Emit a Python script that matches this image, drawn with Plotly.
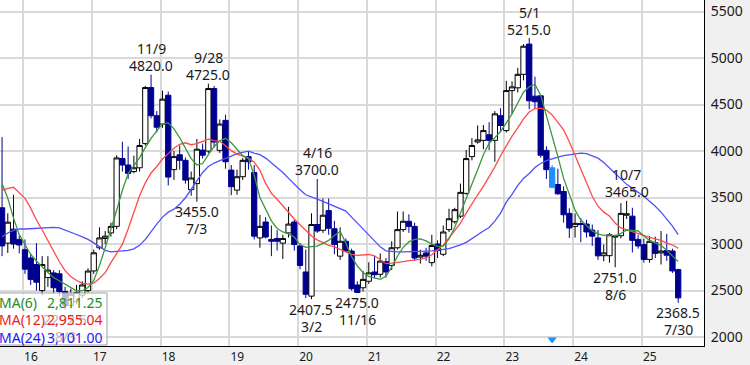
import plotly.graph_objects as go

# Monthly candles, first candle = Sep 2015 (index -4), Jan 2016 = index 0
first_index = -4
opens = [3390, 3010, 3160, 3050, 2940, 2850, 2780, 2500, 2640, 2690, 2680, 2490, 2340, 2380, 2450, 2500,
         2711, 2960, 3060, 3120, 3190, 3920, 3850, 3780, 3820, 4080, 4683, 4380, 4290, 4600,
         3800, 3960, 3900, 3585, 3650, 4010, 4000, 4672, 4007, 4330, 3795, 3580, 3724, 3940, 3770,
         3066, 3237, 3050, 3060, 3010, 3120, 3237, 2980, 2700, 2440, 3210, 3148, 3360, 3165, 2870,
         3030, 2925, 2560, 2530, 2600, 2700, 2675, 2810, 2770, 2960, 3155, 3245, 3190, 2860, 2905,
         2800, 3000, 2890, 3155, 3240, 3300, 3545, 3940, 4097, 4115, 4175, 4115, 4380, 4220, 4650,
         4680, 4825, 5150, 4590, 4594, 4007, 3820, 3640, 3565, 3330, 3190, 3220, 3215, 3150, 3066,
         2875, 2875, 3075, 3090, 3310, 3300, 3050, 2994, 2835, 3015, 2905, 2930, 2925, 2725]
highs = [4150, 3330, 3530, 3100, 3050, 2900, 3010, 2870, 2870, 2720, 2720, 2540, 2520, 2560, 2600, 2740,
         2940, 3180, 3140, 3230, 3955, 4100, 4050, 3950, 4130, 4700, 4820, 4430, 4650, 4640,
         4000, 4060, 3930, 3780, 4130, 4080, 4725, 4700, 4340, 4390, 3850, 3800, 3925, 3990, 3850,
         3314, 3290, 3200, 3150, 3100, 3400, 3260, 3010, 2940, 3330, 3700, 3490, 3490, 3250, 3180,
         3060, 2950, 2600, 2710, 2805, 2870, 2900, 2850, 3030, 3350, 3350, 3320, 3230, 2940, 2960,
         3100, 3040, 3200, 3380, 3390, 3650, 4010, 4140, 4275, 4280, 4310, 4430, 4460, 4755, 4750,
         4895, 5150, 5215, 4800, 4600, 4050, 3850, 3810, 3620, 3385, 3330, 3280, 3260, 3210, 3150,
         2995, 3120, 3100, 3440, 3465, 3390, 3100, 3060, 3085, 3080, 3140, 3110, 2950, 2735]
lows = [2870, 2905, 2950, 2900, 2680, 2560, 2500, 2450, 2540, 2470, 2440, 2292.5, 2310, 2350, 2420, 2480,
        2680, 2940, 3000, 3080, 3160, 3780, 3700, 3760, 3780, 4060, 4350, 4200, 4250, 3630,
        3690, 3800, 3650, 3520, 3455, 3920, 3980, 4040, 3980, 3810, 3525, 3530, 3690, 3800, 3050,
        2960, 3060, 2870, 2930, 2840, 3070, 2930, 2730, 2420, 2407.5, 3120, 3120, 3100, 2890, 2830,
        2910, 2500, 2475, 2490, 2570, 2630, 2640, 2640, 2720, 2940, 3130, 3120, 2820, 2790, 2820,
        2760, 2850, 2870, 3130, 3220, 3280, 3530, 3900, 4080, 4020, 4010, 3885, 4200, 4200, 4400,
        4630, 4760, 4450, 4450, 3930, 3700, 3600, 3530, 3230, 3066, 3070, 3020, 3070, 2980, 2830,
        2815, 2800, 2751, 3060, 3270, 2910, 2950, 2800, 2800, 2850, 2780, 2820, 2690, 2368.5]
closes = [2980, 3235, 3000, 2990, 2730, 2620, 2590, 2780, 2720, 2530, 2490, 2340, 2460, 2480, 2560, 2710,
          2906, 3066, 3085, 3190, 3926, 3850, 3760, 3820, 4060, 4683, 4380, 4256, 4558, 3720,
          3940, 3900, 3688, 3710, 4020, 3955, 4672, 4097, 4290, 3885, 3617, 3724, 3900, 3885, 3085,
          3190, 3076, 3030, 3030, 3060, 3215, 2995, 2770, 2460, 3210, 3140, 3310, 3170, 2995, 3030,
          2925, 2520, 2480, 2620, 2690, 2670, 2817, 2700, 2960, 3155, 3245, 3190, 2850, 2880, 2870,
          2985, 2930, 3130, 3272, 3370, 3556, 3919, 4060, 4120, 4220, 4115, 4400, 4275, 4650, 4690,
          4825, 5127, 4540, 4530, 3955, 3800, 3610, 3540, 3315, 3173, 3222.5, 3210, 3130, 3085, 2873,
          2905, 3100, 3083, 3330, 3325, 3040, 2980, 2835, 3030, 2900, 2925, 2880, 2711, 2421.5]

ma6 = [3652, 3492, 3279, 3101, 2995, 2888, 2818, 2754, 2693, 2640, 2604, 2562, 2526, 2498, 2498, 2533,
       2608, 2768, 2959, 3151, 3364, 3578, 3759, 3844, 3929, 4036, 4137, 4217, 4292, 4303,
       4239, 4143, 4025, 3919, 3850, 3866, 3962, 4047, 4111, 4137, 4089, 4015, 3951, 3919, 3740,
       3500, 3372, 3249, 3168, 3130, 3109, 3076, 2995, 2965, 2972, 2978, 3007, 3039, 3093, 3135,
       3010, 2864, 2764, 2695, 2652, 2636, 2621, 2653, 2751, 2869, 2965, 3023, 3050, 3055, 3034,
       3000, 2975, 2978, 3055, 3180, 3330, 3485, 3640, 3800, 3960, 4084, 4143, 4212, 4303, 4398,
       4516, 4633, 4692, 4718, 4601, 4388, 4153, 3940, 3706, 3524, 3364, 3258, 3194, 3141, 3109,
       3093, 3098, 3087, 3114, 3151, 3146, 3141, 3087, 3039, 3013, 2986, 2933, 2874, 2811.25]
ma12 = [3578, 3599, 3610, 3556, 3492, 3386, 3258, 3151, 3034, 2927, 2810, 2714, 2650, 2608, 2581, 2570,
        2581, 2629, 2693, 2800, 2901, 2997, 3162, 3343, 3519, 3658, 3764, 3834, 3914, 3972,
        4031, 4073, 4089, 4068, 4079, 4105, 4127, 4111, 4105, 4057, 4004, 3967, 3945, 3924, 3880,
        3795, 3652, 3546, 3482, 3407, 3333, 3269, 3208, 3146, 3087, 3045, 3013, 2986, 2970, 2941,
        2911, 2890, 2879, 2885, 2888, 2874, 2831, 2789, 2794, 2800, 2810, 2821, 2826, 2835, 2853,
        2885, 2938, 2991, 3066, 3151, 3226, 3333, 3439, 3530, 3620, 3720, 3830, 3950, 4060, 4160,
        4250, 4345, 4420, 4457, 4462, 4441, 4388, 4313, 4228, 4100, 3951, 3791, 3642, 3514, 3407,
        3343, 3301, 3226, 3173, 3151, 3130, 3109, 3093, 3071, 3055, 3039, 3010, 2990, 2955.04]
ma24 = [3077, 3119, 3146, 3162, 3162, 3167, 3173, 3173, 3178, 3180, 3173, 3151, 3130, 3103, 3077, 3050,
        3013, 2970, 2933, 2917, 2922, 2924, 2933, 2949, 2986, 3050, 3135, 3215, 3290, 3343,
        3375, 3428, 3498, 3588, 3684, 3770, 3834, 3871, 3897, 3919, 3945, 3972, 3988, 3999, 3977,
        3961, 3924, 3876, 3828, 3770, 3706, 3642, 3583, 3530, 3503, 3482, 3460, 3434, 3407, 3380,
        3354, 3290, 3226, 3151, 3087, 3031, 2970, 2927, 2919, 2917, 2917, 2917, 2917, 2922, 2924,
        2927, 2931, 2943, 2952, 2970, 2991, 3018, 3061, 3103, 3141, 3178, 3247, 3333, 3450, 3535,
        3631, 3706, 3759, 3823, 3866, 3897, 3919, 3935, 3951, 3961, 3972, 3977, 3972, 3951, 3924,
        3876, 3818, 3759, 3695, 3642, 3599, 3556, 3514, 3460, 3407, 3343, 3269, 3194, 3101.00]

year_labels = ["16", "17", "18", "19", "20", "21", "22", "23", "24", "25"]
y_ticks = [2000, 2500, 3000, 3500, 4000, 4500, 5000, 5500]

legend_names = ["MA(6)", "MA(12)", "MA(24)"]
legend_values = ["2,811.25", "2,955.04", "3,101.00"]

# (month index, price text, date text)
high_marks = [(22, "4820.0", "11/9"), (32, "4725.0", "9/28"), (51, "3700.0", "4/16"),
              (88, "5215.0", "5/1"), (105, "3465.0", "10/7")]
low_marks = [(30, "3455.0", "7/3"), (50, "2407.5", "3/2"), (58, "2475.0", "11/16"),
             (103, "2751.0", "8/6"), (114, "2368.5", "7/30")]
ghost_low = (7, "2292.5", "8/3")
selected_month = 92

n = len(opens)
assert all(len(a) == n for a in (highs, lows, closes, ma6, ma12, ma24))
xs = [first_index + k for k in range(n)]
idx = {x: k for k, x in enumerate(xs)}

NAVY = "#000090"
LIGHT = "#1e8fff"
FONT = "Noto Sans"

main_k = [k for k in range(n) if xs[k] != selected_month]
fig = go.Figure()
fig.add_trace(go.Candlestick(
    x=[xs[k] for k in main_k], open=[opens[k] for k in main_k], high=[highs[k] for k in main_k],
    low=[lows[k] for k in main_k], close=[closes[k] for k in main_k],
    increasing=dict(line=dict(color="#000000", width=1), fillcolor="#ffffff"),
    decreasing=dict(line=dict(color=NAVY, width=1), fillcolor=NAVY),
    whiskerwidth=0, hoverinfo="skip", showlegend=False))
ks = idx[selected_month]
fig.add_trace(go.Candlestick(
    x=[selected_month], open=[opens[ks]], high=[highs[ks]], low=[lows[ks]], close=[closes[ks]],
    increasing=dict(line=dict(color=LIGHT, width=1), fillcolor=LIGHT),
    decreasing=dict(line=dict(color=LIGHT, width=1), fillcolor=LIGHT),
    whiskerwidth=0, hoverinfo="skip", showlegend=False))

for vals, col in ((ma24, "#4f4fff"), (ma12, "#ff4a4a"), (ma6, "#3a973a")):
    fig.add_trace(go.Scatter(x=xs, y=vals, mode="lines", line=dict(color=col, width=1.3),
                             hoverinfo="skip", showlegend=False))

fig.add_trace(go.Scatter(x=[selected_month], y=[1974], mode="markers",
                         marker=dict(symbol="triangle-down", size=8, color=LIGHT),
                         hoverinfo="skip", showlegend=False))

annotations = []
def label(x, y, text, shift, color="#1a1a1a"):
    annotations.append(dict(x=x, y=y, xref="x", yref="y", text=text, showarrow=False,
                            xanchor="center", yanchor="middle", yshift=shift,
                            font=dict(family=FONT, size=14, color=color)))

for m, ptxt, dtxt in high_marks:
    k = idx[m]
    label(m, highs[k], ptxt, 9)
    label(m, highs[k], dtxt, 26)
for m, ptxt, dtxt in low_marks:
    k = idx[m]
    label(m, lows[k], ptxt, -10)
    label(m, lows[k], dtxt, -27)
gm, gp, gd = ghost_low
label(gm, lows[idx[gm]], gp, -10, "#b8b8b8")
label(gm, lows[idx[gm]], gd, -27, "#b8b8b8")

PW, PH = 704.0, 349.0
leg_cols = ["#2b8a2b", "#f01c1c", "#1c1cf0"]
for r, (nm, vl, c) in enumerate(zip(legend_names, legend_values, leg_cols)):
    yy = 1 - (305 + 17.5 * r) / PH
    annotations.append(dict(x=-3 / PW, y=yy, xref="paper", yref="paper", text=nm, showarrow=False,
                            xanchor="left", yanchor="middle", font=dict(family=FONT, size=14, color=c)))
    annotations.append(dict(x=105 / PW, y=yy, xref="paper", yref="paper", text=vl, showarrow=False,
                            xanchor="right", yanchor="middle", font=dict(family=FONT, size=14, color=c)))

shapes = [dict(type="rect", xref="paper", yref="paper", x0=-0.01, x1=107 / PW,
               y0=1 - 348 / PH, y1=1 - 295.5 / PH, fillcolor="rgba(255,255,255,0.72)",
               line=dict(color="#a0a0a0", width=1), layer="above")]

fig.update_layout(
    width=750, height=365, margin=dict(l=0, r=46, t=0, b=16),
    paper_bgcolor="#f0f0f0", plot_bgcolor="#ffffff",
    boxgap=0.04, boxgroupgap=0.04, boxmode="overlay",
    showlegend=False, annotations=annotations, shapes=shapes,
    font=dict(family=FONT, color="#1a1a1a"),
    xaxis=dict(range=[-4.36, 118.5], tickvals=[12 * k - 0.35 for k in range(len(year_labels))],
               ticktext=year_labels, showgrid=True, gridcolor="#d9d9d9", gridwidth=2,
               zeroline=False, showline=True, linecolor="#000000", linewidth=1, ticks="",
               ticklabelshift=8, tickfont=dict(family=FONT, size=12, color="#1a1a1a"),
               rangeslider=dict(visible=False), fixedrange=True),
    yaxis=dict(range=[1904, 5624], side="right", tickvals=y_ticks,
               ticktext=[str(v) for v in y_ticks], showgrid=True, gridcolor="#d9d9d9", gridwidth=2,
               zeroline=False, showline=True, linecolor="#000000", linewidth=1, ticks="",
               ticklabelstandoff=3, tickfont=dict(family=FONT, size=14, color="#1a1a1a"),
               fixedrange=True),
)

fig.write_html("out.html")
